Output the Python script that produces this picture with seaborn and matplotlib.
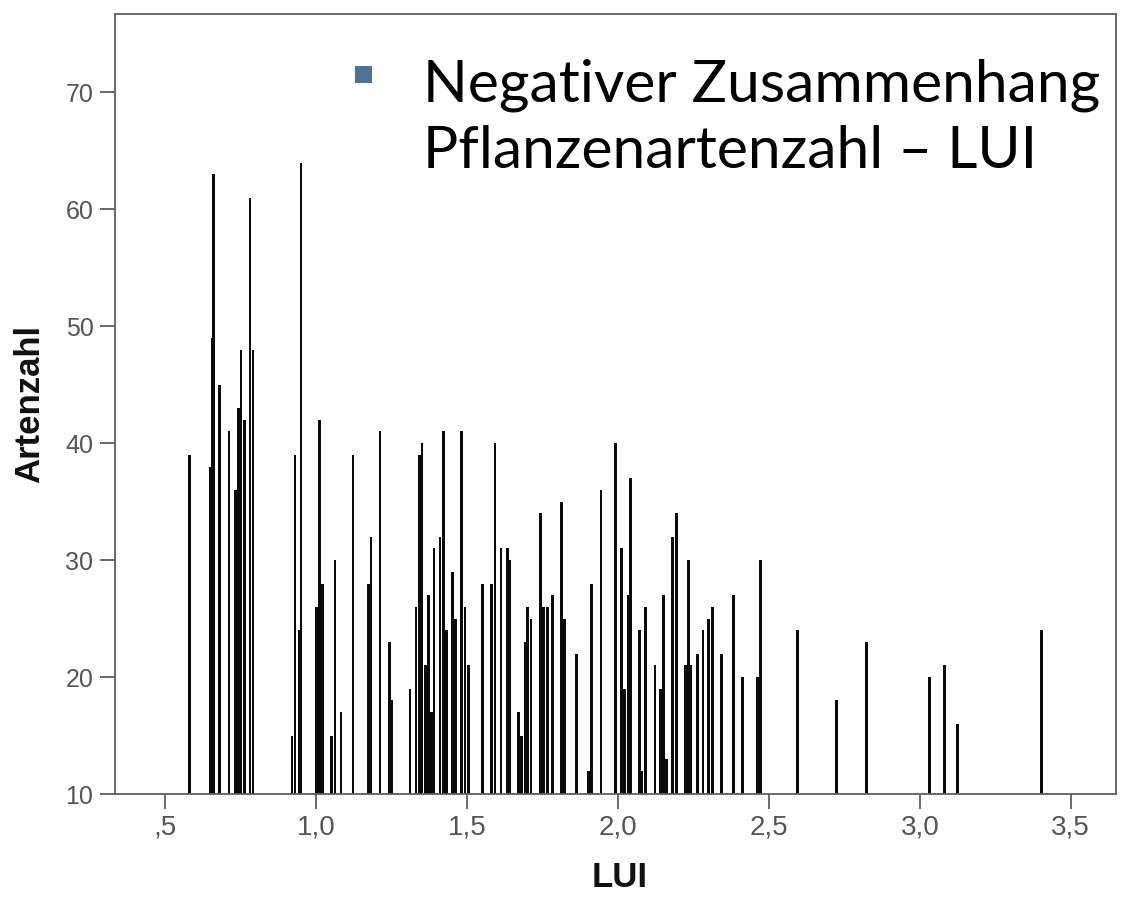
import matplotlib
matplotlib.use("Agg")
import matplotlib.pyplot as plt
import seaborn as sns
import pandas as pd
from matplotlib.patches import Rectangle

# ---- data ----
lui = [0.580, 0.651, 0.657, 0.660, 0.681, 0.712, 0.732, 0.742, 0.751, 0.762, 0.781, 0.791,
       0.920, 0.930, 0.944, 0.950, 1.002, 1.012, 1.021, 1.052, 1.063, 1.083, 1.122,
       1.173, 1.182, 1.212, 1.243, 1.251,
       1.311, 1.331, 1.342, 1.351, 1.362, 1.372, 1.382, 1.391, 1.411, 1.422, 1.433,
       1.451, 1.461, 1.482, 1.493, 1.504, 1.552, 1.582, 1.593,
       1.613, 1.635, 1.642, 1.670, 1.681, 1.692, 1.701, 1.712, 1.743, 1.754, 1.767,
       1.783, 1.814, 1.822, 1.862, 1.903, 1.913,
       1.944, 1.993, 2.013, 2.021, 2.034, 2.042, 2.071, 2.080, 2.092, 2.123, 2.141,
       2.152, 2.161, 2.181, 2.194, 2.224, 2.233, 2.242, 2.263,
       2.282, 2.301, 2.314, 2.343, 2.383, 2.413, 2.462, 2.473, 2.594,
       2.724, 2.823, 3.033, 3.083, 3.124, 3.403]
artenzahl = [39, 38, 49, 63, 45, 41, 36, 43, 48, 42, 61, 48,
             15, 39, 24, 64, 26, 42, 28, 15, 30, 17, 39,
             28, 32, 41, 23, 18,
             19, 26, 39, 40, 21, 27, 17, 31, 32, 41, 24,
             29, 25, 41, 26, 21, 28, 28, 40,
             31, 31, 30, 17, 15, 23, 26, 25, 34, 26, 26,
             27, 35, 25, 22, 12, 28,
             36, 40, 31, 19, 27, 37, 24, 12, 26, 21, 19,
             27, 13, 32, 34, 21, 30, 21, 22,
             24, 25, 26, 22, 27, 20, 20, 30, 24,
             18, 23, 20, 21, 16, 24]

x_ticks = [0.5, 1.0, 1.5, 2.0, 2.5, 3.0, 3.5]
x_tick_labels = [",5", "1,0", "1,5", "2,0", "2,5", "3,0", "3,5"]
y_ticks = [10, 20, 30, 40, 50, 60, 70]
y_tick_labels = ["10", "20", "30", "40", "50", "60", "70"]
x_label = "LUI"
y_label = "Artenzahl"
note_lines = ["Negativer Zusammenhang", "Pflanzenartenzahl \u2013 LUI"]

# ---- styling ----
sns.set_theme(style="ticks")
plt.rcParams['font.family'] = ['Liberation Sans', 'DejaVu Sans']

W, H = 1128, 901
fig = plt.figure(figsize=(W / 100, H / 100), dpi=100)
fig.patch.set_facecolor("white")
ax = fig.add_axes([115 / W, 1 - 794 / H, (1116 - 115) / W, (794 - 14) / H])

df = pd.DataFrame({"LUI": lui, "Artenzahl": artenzahl})
sns.barplot(data=df, x="LUI", y="Artenzahl", native_scale=True, color="black",
            saturation=1, errorbar=None, ax=ax)

bar_w = 0.009
for p in ax.patches:
    cx = p.get_x() + p.get_width() / 2
    p.set_width(bar_w)
    p.set_x(cx - bar_w / 2)
    p.set_linewidth(0)
    p.set_facecolor("#0a0a0a")

ax.set_xlim(0.334, 3.65)
ax.set_ylim(10, 76.7)
ax.set_xticks(x_ticks)
ax.set_xticklabels(x_tick_labels)
ax.set_yticks(y_ticks)
ax.set_yticklabels(y_tick_labels)

for s in ax.spines.values():
    s.set_visible(True)
    s.set_color("#5e5e5e")
    s.set_linewidth(1.3)
ax.tick_params(direction="out", length=10.5, width=1.3, color="#5e5e5e",
               labelcolor="#555555")
ax.tick_params(axis="x", labelsize=20, pad=4)
ax.tick_params(axis="y", labelsize=18, pad=5)

ax.set_xlabel(x_label, fontsize=25, fontweight="bold", color="#111111")
ax.set_ylabel(y_label, fontsize=25, fontweight="bold", color="#111111")
ax.xaxis.set_label_coords((620 - 115) / 1001, (794 - 861) / 780)
ax.yaxis.set_label_coords((30 - 115) / 1001, (794 - 404) / 780)
ax.yaxis.label.set_verticalalignment("center")

# bullet and note text
fig.patches.append(Rectangle((355 / W, 1 - 83 / H), 17 / W, 17 / H,
                             transform=fig.transFigure, facecolor="#4f7192",
                             edgecolor="none"))
fig.text(423 / W, 1 - 102 / H, note_lines[0], fontsize=42.3, family="Lato",
         color="black", va="baseline", ha="left")
fig.text(423 / W, 1 - 168 / H, note_lines[1], fontsize=42.3, family="Lato",
         color="black", va="baseline", ha="left")

fig.savefig("out.png", dpi=100, facecolor="white")
